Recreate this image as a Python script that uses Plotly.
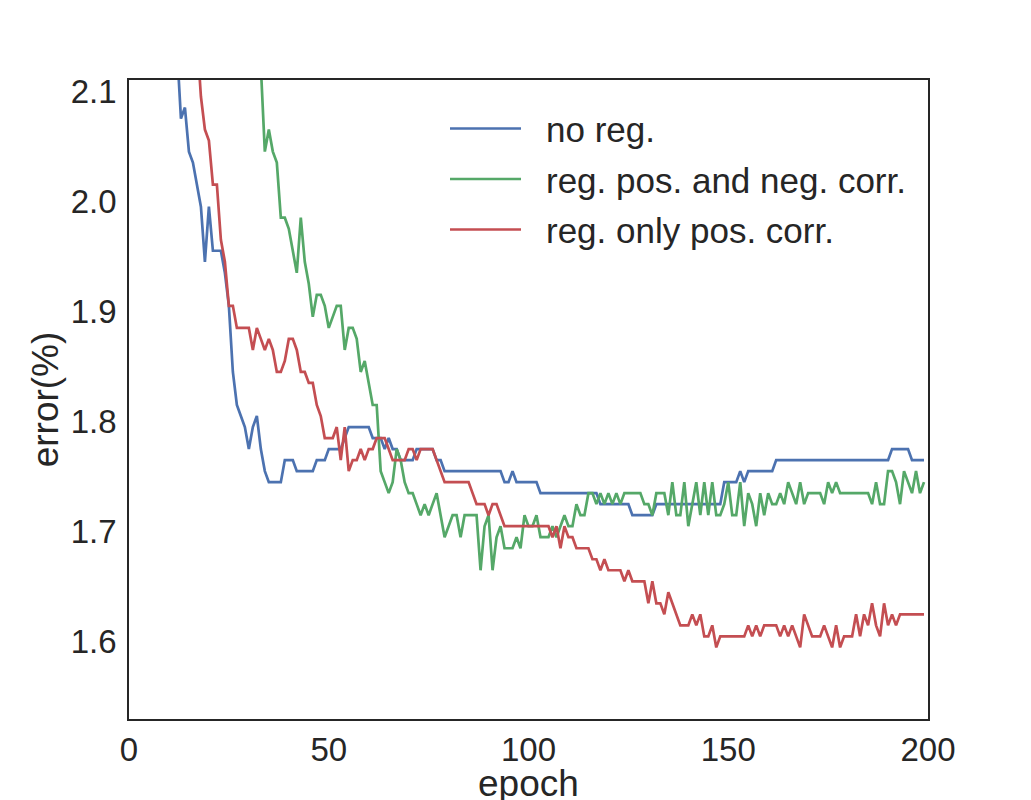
import plotly.graph_objects as go

# error (%) per epoch
blue_start = 12
no_reg = [
    2.14, 2.075, 2.085, 2.045, 2.035, 2.015, 1.995, 1.945,
    1.995, 1.955, 1.955, 1.955, 1.935, 1.905, 1.845, 1.815, 1.805, 1.795,
    1.775, 1.795, 1.805, 1.775, 1.755, 1.745, 1.745, 1.745, 1.745, 1.765,
    1.765, 1.765, 1.755, 1.755, 1.755, 1.755, 1.755, 1.765, 1.765, 1.765,
    1.775, 1.775, 1.775, 1.775, 1.785, 1.795, 1.795, 1.795, 1.795, 1.795,
    1.795, 1.785, 1.785, 1.785, 1.775, 1.785, 1.775, 1.775, 1.765, 1.765,
    1.765, 1.765, 1.775, 1.775, 1.775, 1.775, 1.775, 1.765, 1.765, 1.755,
    1.755, 1.755, 1.755, 1.755, 1.755, 1.755, 1.755, 1.755, 1.755, 1.755,
    1.755, 1.755, 1.755, 1.755, 1.745, 1.745, 1.755, 1.745, 1.745, 1.745,
    1.745, 1.745, 1.745, 1.735, 1.735, 1.735, 1.735, 1.735, 1.735, 1.735,
    1.735, 1.735, 1.735, 1.735, 1.735, 1.735, 1.735, 1.735, 1.725, 1.725,
    1.725, 1.725, 1.725, 1.725, 1.725, 1.725, 1.715, 1.715, 1.715, 1.715,
    1.715, 1.715, 1.725, 1.725, 1.725, 1.725, 1.725, 1.725, 1.725, 1.725,
    1.725, 1.725, 1.725, 1.725, 1.725, 1.725, 1.725, 1.725, 1.725, 1.745,
    1.745, 1.745, 1.745, 1.755, 1.745, 1.755, 1.755, 1.755, 1.755, 1.755,
    1.755, 1.755, 1.765, 1.765, 1.765, 1.765, 1.765, 1.765, 1.765, 1.765,
    1.765, 1.765, 1.765, 1.765, 1.765, 1.765, 1.765, 1.765, 1.765, 1.765,
    1.765, 1.765, 1.765, 1.765, 1.765, 1.765, 1.765, 1.765, 1.765, 1.765,
    1.765, 1.775, 1.775, 1.775, 1.775, 1.775, 1.765, 1.765, 1.765, 1.765,
]

green_start = 32
pos_neg = [
    2.2, 2.12, 2.045, 2.065, 2.045, 2.035, 1.985, 1.985,
    1.975, 1.955, 1.935, 1.985, 1.945, 1.925, 1.895, 1.915, 1.915, 1.905,
    1.885, 1.895, 1.905, 1.905, 1.865, 1.885, 1.885, 1.875, 1.845, 1.855,
    1.835, 1.815, 1.815, 1.755, 1.745, 1.735, 1.745, 1.775, 1.765, 1.745,
    1.735, 1.735, 1.725, 1.715, 1.725, 1.715, 1.725, 1.735, 1.715, 1.695,
    1.705, 1.715, 1.715, 1.695, 1.715, 1.715, 1.715, 1.715, 1.665, 1.705,
    1.715, 1.665, 1.695, 1.705, 1.685, 1.685, 1.685, 1.695, 1.685, 1.715,
    1.705, 1.705, 1.715, 1.695, 1.695, 1.695, 1.705, 1.695, 1.705, 1.715,
    1.705, 1.705, 1.725, 1.715, 1.715, 1.735, 1.735, 1.725, 1.735, 1.725,
    1.735, 1.725, 1.735, 1.725, 1.735, 1.735, 1.735, 1.735, 1.735, 1.725,
    1.725, 1.715, 1.735, 1.735, 1.735, 1.715, 1.745, 1.715, 1.715, 1.745,
    1.705, 1.725, 1.745, 1.715, 1.745, 1.715, 1.745, 1.715, 1.715, 1.725,
    1.745, 1.715, 1.715, 1.745, 1.705, 1.735, 1.725, 1.705, 1.735, 1.715,
    1.735, 1.725, 1.725, 1.735, 1.725, 1.745, 1.735, 1.725, 1.745, 1.725,
    1.735, 1.735, 1.735, 1.735, 1.725, 1.745, 1.735, 1.745, 1.735, 1.735,
    1.735, 1.735, 1.735, 1.735, 1.735, 1.735, 1.725, 1.745, 1.725, 1.725,
    1.755, 1.755, 1.745, 1.725, 1.755, 1.745, 1.735, 1.755, 1.735, 1.745,
]

red_start = 17
only_pos = [
    2.15, 2.095, 2.065,
    2.055, 2.015, 2.015, 1.965, 1.945, 1.905, 1.905, 1.885, 1.885, 1.885,
    1.885, 1.865, 1.885, 1.875, 1.865, 1.875, 1.865, 1.845, 1.845, 1.855,
    1.875, 1.875, 1.865, 1.845, 1.845, 1.835, 1.835, 1.815, 1.805, 1.785,
    1.785, 1.785, 1.795, 1.765, 1.795, 1.755, 1.765, 1.765, 1.775, 1.765,
    1.775, 1.775, 1.785, 1.785, 1.785, 1.775, 1.765, 1.765, 1.765, 1.765,
    1.775, 1.775, 1.765, 1.775, 1.775, 1.775, 1.775, 1.765, 1.755, 1.745,
    1.745, 1.745, 1.745, 1.745, 1.745, 1.745, 1.735, 1.725, 1.725, 1.725,
    1.715, 1.725, 1.725, 1.715, 1.705, 1.705, 1.705, 1.705, 1.705, 1.705,
    1.705, 1.705, 1.705, 1.705, 1.705, 1.705, 1.695, 1.705, 1.685, 1.705,
    1.695, 1.695, 1.685, 1.685, 1.685, 1.685, 1.675, 1.675, 1.665, 1.675,
    1.665, 1.665, 1.665, 1.665, 1.655, 1.665, 1.655, 1.655, 1.655, 1.655,
    1.635, 1.655, 1.635, 1.635, 1.625, 1.645, 1.635, 1.625, 1.615, 1.615,
    1.615, 1.625, 1.615, 1.625, 1.605, 1.605, 1.615, 1.595, 1.605, 1.605,
    1.605, 1.605, 1.605, 1.605, 1.605, 1.615, 1.605, 1.615, 1.605, 1.615,
    1.615, 1.615, 1.615, 1.605, 1.615, 1.605, 1.615, 1.605, 1.595, 1.625,
    1.615, 1.605, 1.605, 1.605, 1.615, 1.605, 1.595, 1.615, 1.595, 1.605,
    1.605, 1.605, 1.625, 1.605, 1.625, 1.615, 1.635, 1.615, 1.605, 1.635,
    1.615, 1.625, 1.615, 1.625, 1.625, 1.625, 1.625, 1.625, 1.625, 1.625,
]

labels = ["no reg.", "reg. pos. and neg. corr.", "reg. only pos. corr."]
colors = ["#4C72B0", "#55A868", "#C44E52"]
x_ticks = [0, 50, 100, 150, 200]
y_ticks = [1.6, 1.7, 1.8, 1.9, 2.0, 2.1]
x_title = "epoch"
y_title = "error(%)"

series = [
    (blue_start, no_reg),
    (green_start, pos_neg),
    (red_start, only_pos),
]

FONT = "Liberation Sans, Arial, Helvetica, sans-serif"
TXT = "#262626"

# the page body adds an 8px margin, so the figure is drawn 8px smaller
PAD = 8
W, H = 1031 - PAD, 800 - PAD
# plot area in page pixels (as measured on the reference)
L, R, T, B = 129, 928, 80, 719


def xp(px):
    return (px - L) / (R - L)


def yp(py):
    return (B - py) / (B - T)


fig = go.Figure()
for (start, vals), name, col in zip(series, labels, colors):
    fig.add_trace(go.Scatter(
        x=list(range(start, start + len(vals))),
        y=vals,
        mode="lines",
        name=name,
        line=dict(color=col, width=2.7),
        showlegend=False,
    ))

# legend drawn like matplotlib's (long line handles)
shapes = []
annotations = []
for i, (name, col) in enumerate(zip(labels, colors)):
    ly = 128.5 + i * 50.5
    shapes.append(dict(type="line", xref="paper", yref="paper",
                       x0=xp(450), x1=xp(521), y0=yp(ly), y1=yp(ly),
                       line=dict(color=col, width=2.7)))
    annotations.append(dict(xref="paper", yref="paper", x=xp(544), y=yp(ly + 1),
                            xanchor="left", yanchor="middle", showarrow=False,
                            text=name, font=dict(family=FONT, size=35, color=TXT)))

# x label sits low against the bottom edge, as in the original
annotations.append(dict(xref="paper", yref="paper", x=0.5, y=yp(761),
                        xanchor="center", yanchor="top", showarrow=False,
                        text=x_title, font=dict(family=FONT, size=37, color=TXT)))

fig.update_layout(
    width=W,
    height=H,
    margin=dict(l=L - PAD, r=W - (R - PAD), t=T - PAD, b=H - (B - PAD),
                autoexpand=False),
    paper_bgcolor="white",
    plot_bgcolor="white",
    font=dict(family=FONT, size=33, color=TXT),
    shapes=shapes,
    annotations=annotations,
)

fig.update_xaxes(
    range=[0, 200],
    tickvals=x_ticks,
    ticktext=[str(v) for v in x_ticks],
    showgrid=False, zeroline=False, ticks="",
    showline=True, mirror=True, linecolor=TXT, linewidth=1.8,
    tickfont=dict(family=FONT, size=33, color=TXT),
    automargin=False,
)
fig.update_yaxes(
    range=[1.53, 2.11],
    tickvals=y_ticks,
    ticktext=[f"{v:.1f}" for v in y_ticks],
    showgrid=False, zeroline=False, ticks="",
    showline=True, mirror=True, linecolor=TXT, linewidth=1.8,
    tickfont=dict(family=FONT, size=33, color=TXT),
    ticklabelstandoff=4,
    automargin=False,
    title=dict(text=y_title, font=dict(family=FONT, size=37, color=TXT), standoff=1),
)

fig.write_html("out.html")
